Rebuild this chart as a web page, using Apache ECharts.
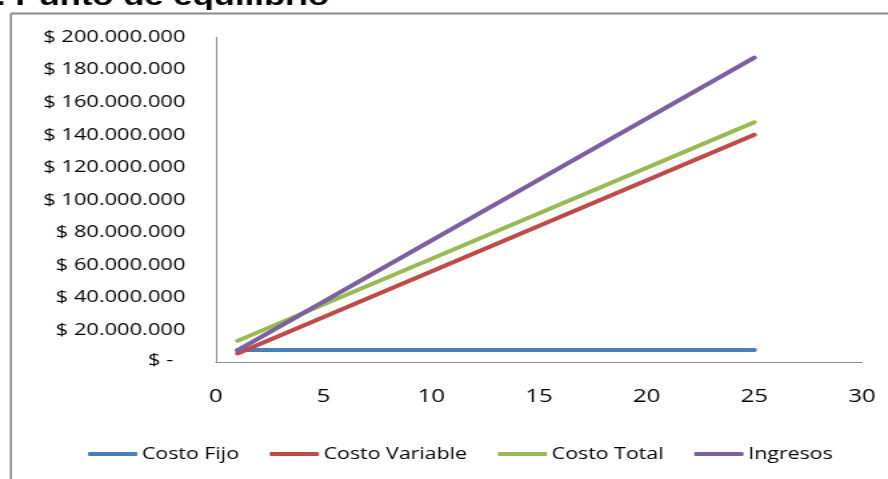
<!DOCTYPE html>
<html>
<head>
<meta charset="utf-8">
<script src="https://cdn.jsdelivr.net/npm/echarts@6/dist/echarts.min.js"></script>
<style>
  html, body { margin: 0; padding: 0; background: #ffffff; overflow: hidden; }
  #wrap { width: 888px; height: 479px; overflow: hidden; position: relative; }
  #c { width: 666px; height: 479px; transform: scaleX(1.3333); transform-origin: 0 0; }
</style>
</head>
<body>
<div id="wrap"><div id="c"></div></div>
<script>
// ---- data ----
var titleText = '. Punto de equilibrio';
var unidades = [1, 25];
var costoFijo = [7700000, 7700000];
var costoVariable = [5600000, 140000000];
var costoTotal = [13300000, 147700000];
var ingresos = [7500000, 187500000];
var seriesNames = ['Costo Fijo', 'Costo Variable', 'Costo Total', 'Ingresos'];
var seriesColors = ['#4A7EBB', '#BE4B48', '#98B954', '#7D60A0'];
var yTickLabels = ['$ -', '$ 20.000.000', '$ 40.000.000', '$ 60.000.000', '$ 80.000.000',
  '$ 100.000.000', '$ 120.000.000', '$ 140.000.000', '$ 160.000.000', '$ 180.000.000', '$ 200.000.000'];
var yStep = 20000000;

function pairs(xs, ys) { return xs.map(function (x, i) { return [x, ys[i]]; }); }
var allValues = [costoFijo, costoVariable, costoTotal, ingresos];

var font = '"Open Sans", sans-serif';
var chart = echarts.init(document.getElementById('c'), null, { renderer: 'canvas' });
chart.setOption({
  backgroundColor: '#ffffff',
  animation: false,
  graphic: [
    { type: 'line', shape: { x1: 8.2, y1: 13.5, x2: 700, y2: 13.5 }, style: { stroke: '#8a8a8a', lineWidth: 2 } },
    { type: 'line', shape: { x1: 8.2, y1: 13.5, x2: 8.2, y2: 600 }, style: { stroke: '#8a8a8a', lineWidth: 1.6 } },
    { type: 'text', x: 247, y: -2, z: 10,
      style: { text: titleText, font: 'bold 26px "Liberation Sans", Arial, sans-serif', fill: '#000000', align: 'right', verticalAlign: 'middle' } }
  ],
  grid: { left: 162, right: 19.5, top: 37.3, bottom: 116.5, containLabel: false },
  legend: {
    data: seriesNames.map(function (n, i) {
      return { name: n, icon: 'roundRect', itemStyle: { color: seriesColors[i] } };
    }),
    left: 61, top: 441,
    itemWidth: 37, itemHeight: 4, itemGap: 23,
    textStyle: { fontFamily: font, fontSize: 16, color: '#000000', padding: [0, 0, 0, -1.5] }
  },
  xAxis: {
    type: 'value', min: 0, max: 30, interval: 5,
    axisLine: { show: true, lineStyle: { color: '#8c8c8c', width: 1 } },
    axisTick: { show: false },
    splitLine: { show: false },
    axisLabel: { margin: 25, fontFamily: font, fontSize: 18, color: '#000000' }
  },
  yAxis: {
    type: 'value', min: 0, max: 200000000, interval: yStep,
    axisLine: { show: true, lineStyle: { color: '#8c8c8c', width: 1 } },
    axisTick: { show: false },
    splitLine: { show: false },
    axisLabel: {
      margin: 23, fontFamily: font, fontSize: 16.4, color: '#000000',
      formatter: function (v) {
        var i = Math.round(v / yStep);
        if (i === 0) return '{z|' + yTickLabels[0] + '}';
        return yTickLabels[i];
      },
      rich: { z: { fontFamily: font, fontSize: 16.4, color: '#000000', padding: [0, 9, 5, 0] } }
    }
  },
  series: seriesNames.map(function (n, i) {
    return {
      name: n, type: 'line', symbol: 'none', silent: true,
      data: pairs(unidades, allValues[i]),
      lineStyle: { color: seriesColors[i], width: 4, cap: 'round' },
      itemStyle: { color: seriesColors[i] }
    };
  })
});
</script>
</body>
</html>
